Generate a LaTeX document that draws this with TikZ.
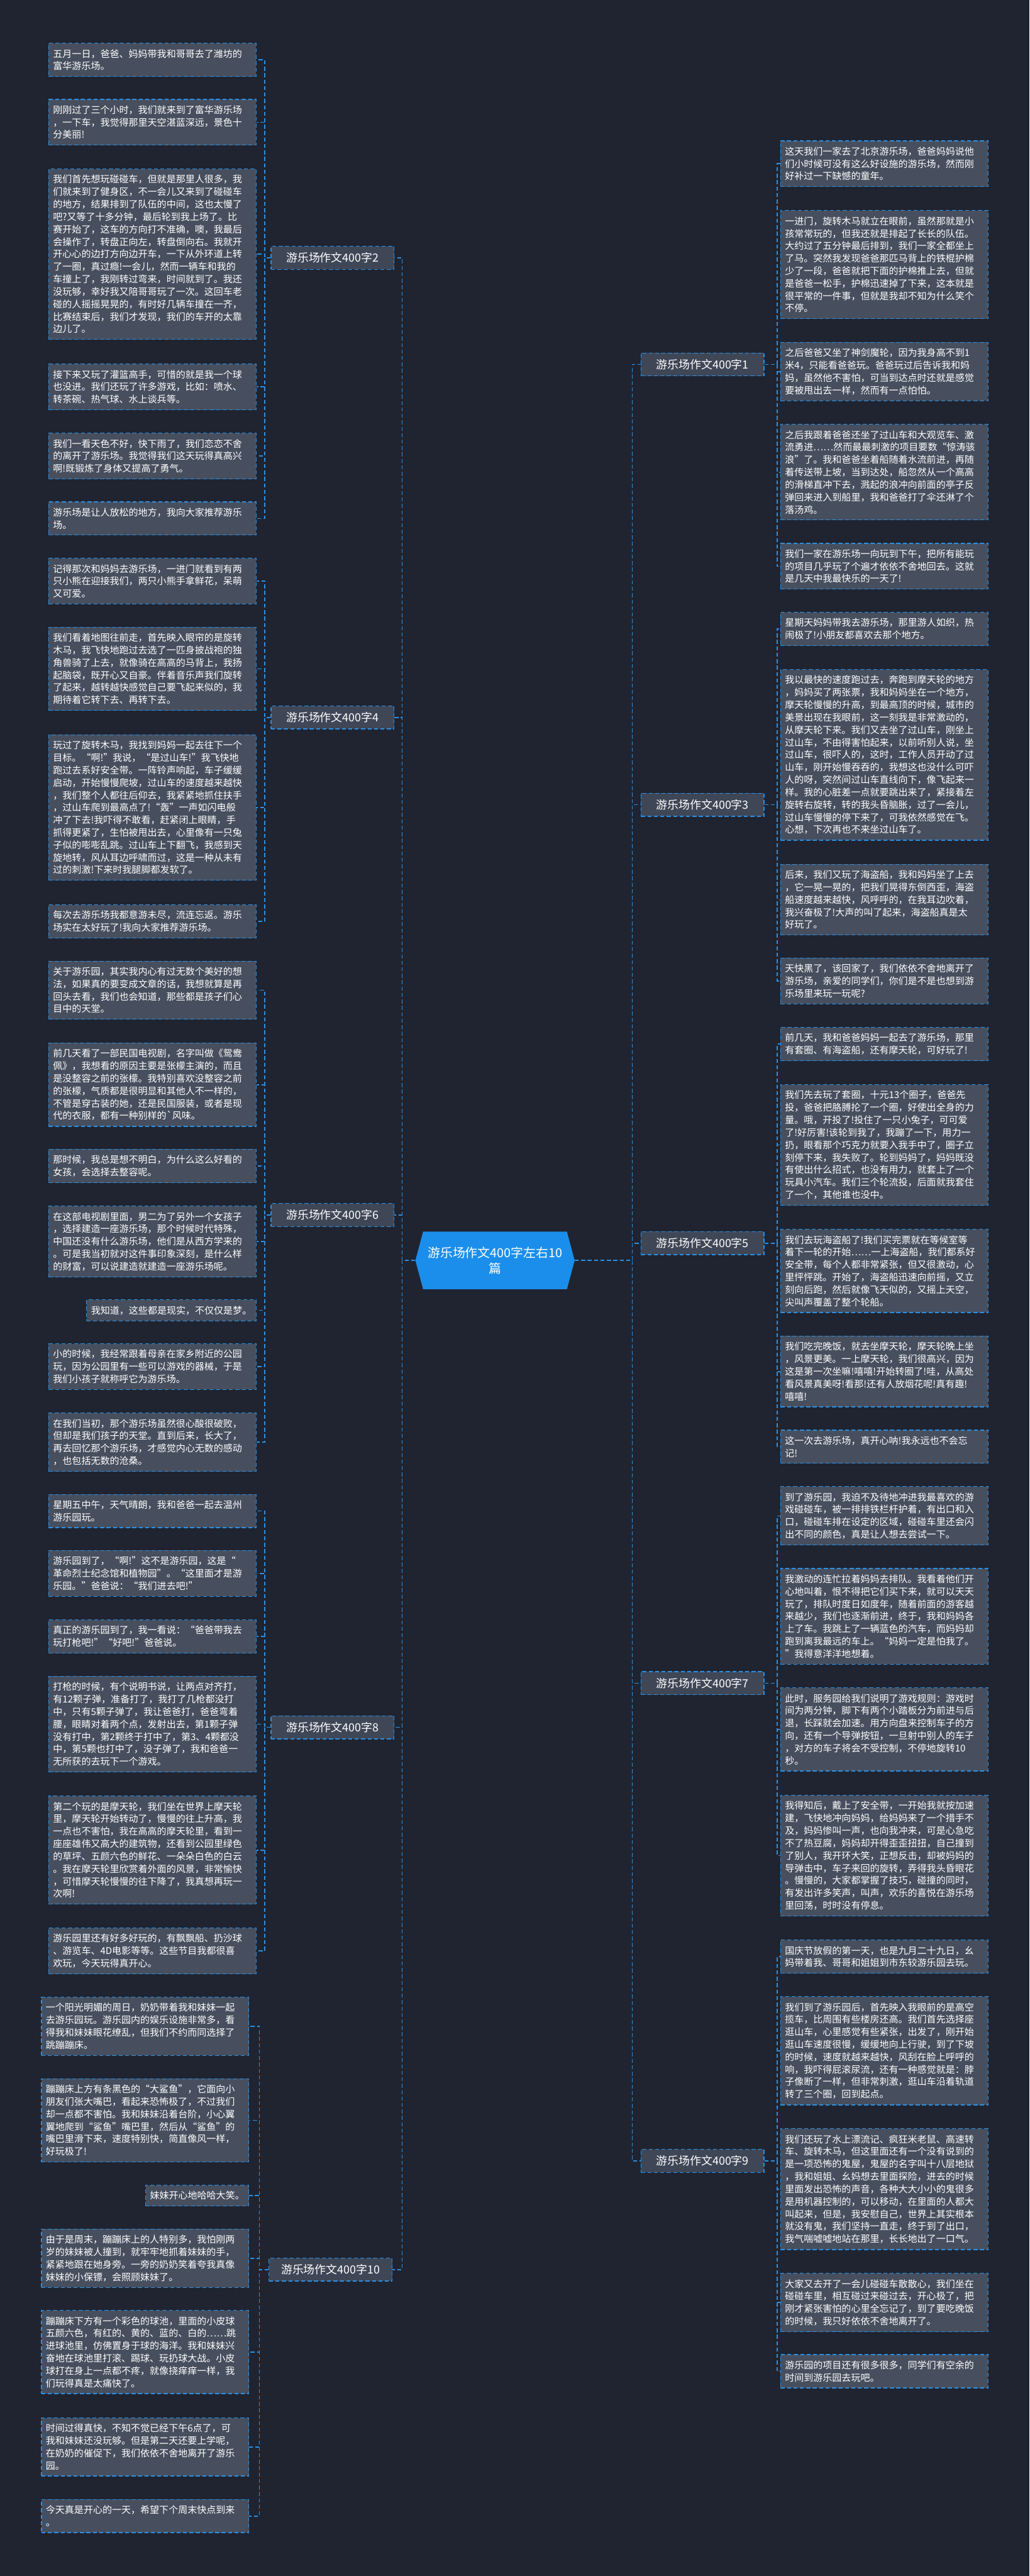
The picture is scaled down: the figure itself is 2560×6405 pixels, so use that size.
\documentclass[tikz,border=0pt]{standalone}
\usepackage{fontspec}
\newfontfamily\cjk{Noto Sans CJK SC}
\usetikzlibrary{shapes.symbols}
\definecolor{bgc}{HTML}{1F2430}
\definecolor{leaffill}{HTML}{474F5E}
\definecolor{lineblue}{HTML}{2B8FE3}
\definecolor{centerblue}{HTML}{1B8EEB}
\definecolor{branchfill}{HTML}{3F4757}
\tikzset{
  leafbase/.style={draw=lineblue, fill=leaffill, dash pattern=on 10pt off 6pt, line width=2pt,
    text=white, font=\cjk\fontsize{23.5}{31}\selectfont, inner xsep=11pt, inner ysep=15pt},
  leaf/.style={leafbase, align=left, text width=494pt},
  shortleaf/.style={leafbase, align=left},
  branch/.style={draw=lineblue, fill=branchfill, dash pattern=on 10pt off 6pt, line width=2pt, text=white,
    font=\cjk\fontsize{28}{34}\selectfont, minimum width=306pt, minimum height=57pt, inner sep=4pt},
  centernode/.style={signal, signal to=west and east, signal pointer angle=150, fill=centerblue,
    text=white, font=\cjk\fontsize{31}{40}\selectfont, align=center, minimum width=396pt,
    minimum height=143pt, inner sep=6pt},
  link/.style={draw=lineblue, line width=2.5pt, dash pattern=on 10pt off 6pt},
}
\begin{document}
\begin{tikzpicture}[x=1pt,y=-1pt]
\fill[bgc] (0,0) rectangle (2560,6405);
\useasboundingbox (0,0) rectangle (2560,6405);

% center
\node[centernode] (c) at (1231,3134) {游乐场作文400字左右10\\篇};

% branches
\node[branch] (b2) at (827,641) {游乐场作文400字2};
\node[branch] (b4) at (827,1784) {游乐场作文400字4};
\node[branch] (b6) at (827,3021) {游乐场作文400字6};
\node[branch] (b8) at (827,4295) {游乐场作文400字8};
\node[branch] (b10) at (822,5643) {游乐场作文400字10};
\node[branch] (b1) at (1747,906) {游乐场作文400字1};
\node[branch] (b3) at (1747,2001) {游乐场作文400字3};
\node[branch] (b5) at (1747,3091) {游乐场作文400字5};
\node[branch] (b7) at (1747,4185) {游乐场作文400字7};
\node[branch] (b9) at (1747,5373) {游乐场作文400字9};

% left leaves group 2
\node[leaf, anchor=east] (l2a) at (638,149) {五月一日，爸爸、妈妈带我和哥哥去了潍坊的\\富华游乐场。};
\node[leaf, anchor=east] (l2b) at (638,304) {刚刚过了三个小时，我们就来到了富华游乐场\\，一下车，我觉得那里天空湛蓝深远，景色十\\分美丽!};
\node[leaf, anchor=east] (l2c) at (638,632) {我们首先想玩碰碰车，但就是那里人很多，我\\们就来到了健身区，不一会儿又来到了碰碰车\\的地方，结果排到了队伍的中间，这也太慢了\\吧?又等了十多分钟，最后轮到我上场了。比\\赛开始了，这车的方向打不准确，噢，我最后\\会操作了，转盘正向左，转盘倒向右。我就开\\开心心的边打方向边开车，一下从外环道上转\\了一圈，真过瘾!一会儿，然而一辆车和我的\\车撞上了，我刚转过弯来，时间就到了。我还\\没玩够，幸好我又陪哥哥玩了一次。这回车老\\碰的人摇摇晃晃的，有时好几辆车撞在一齐，\\比赛结束后，我们才发现，我们的车开的太靠\\边儿了。};
\node[leaf, anchor=east] (l2d) at (638,962) {接下来又玩了灌篮高手，可惜的就是我一个球\\也没进。我们还玩了许多游戏，比如：喷水、\\转茶碗、热气球、水上谈兵等。};
\node[leaf, anchor=east] (l2e) at (638,1134) {我们一看天色不好，快下雨了，我们恋恋不舍\\的离开了游乐场。我觉得我们这天玩得真高兴\\啊!既锻炼了身体又提高了勇气。};
\node[leaf, anchor=east] (l2f) at (638,1289) {游乐场是让人放松的地方，我向大家推荐游乐\\场。};

% group 4
\node[leaf, anchor=east] (l4a) at (638,1445) {记得那次和妈妈去游乐场，一进门就看到有两\\只小熊在迎接我们，两只小熊手拿鲜花，呆萌\\又可爱。};
\node[leaf, anchor=east] (l4b) at (638,1663) {我们看着地图往前走，首先映入眼帘的是旋转\\木马，我飞快地跑过去选了一匹身披战袍的独\\角兽骑了上去，就像骑在高高的马背上，我扬\\起脑袋，既开心又自豪。伴着音乐声我们旋转\\了起来，越转越快感觉自己要飞起来似的，我\\期待着它转下去、再转下去。};
\node[leaf, anchor=east] (l4c) at (638,2008) {玩过了旋转木马，我找到妈妈一起去往下一个\\目标。“啊!”我说，“是过山车!”我飞快地\\跑过去系好安全带。一阵铃声响起，车子缓缓\\启动，开始慢慢爬坡，过山车的速度越来越快\\，我们整个人都往后仰去，我紧紧地抓住扶手\\，过山车爬到最高点了!“轰”一声如闪电般\\冲了下去!我吓得不敢看，赶紧闭上眼睛，手\\抓得更紧了，生怕被甩出去，心里像有一只兔\\子似的嘭嘭乱跳。过山车上下翻飞，我感到天\\旋地转，风从耳边呼啸而过，这是一种从未有\\过的刺激!下来时我腿脚都发软了。};
\node[leaf, anchor=east] (l4d) at (638,2291) {每次去游乐场我都意游未尽，流连忘返。游乐\\场实在太好玩了!我向大家推荐游乐场。};

% group 6
\node[leaf, anchor=east] (l6a) at (638,2462) {关于游乐园，其实我内心有过无数个美好的想\\法，如果真的要变成文章的话，我想就算是再\\回头去看，我们也会知道，那些都是孩子们心\\目中的天堂。};
\node[leaf, anchor=east] (l6b) at (638,2697) {前几天看了一部民国电视剧，名字叫做《鸳鸯\\佩》，我想看的原因主要是张檬主演的，而且\\是没整容之前的张檬。我特别喜欢没整容之前\\的张檬，气质都是很明显和其他人不一样的，\\不管是穿古装的她，还是民国服装，或者是现\\代的衣服，都有一种别样的`风味。};
\node[leaf, anchor=east] (l6c) at (638,2899) {那时候，我总是想不明白，为什么这么好看的\\女孩，会选择去整容呢。};
\node[leaf, anchor=east] (l6d) at (638,3087) {在这部电视剧里面，男二为了另外一个女孩子\\，选择建造一座游乐场，那个时候时代特殊，\\中国还没有什么游乐场，他们是从西方学来的\\。可是我当初就对这件事印象深刻，是什么样\\的财富，可以说建造就建造一座游乐场呢。};
\node[shortleaf, anchor=east] (l6e) at (638,3258) {我知道，这些都是现实，不仅仅是梦。};
\node[leaf, anchor=east] (l6f) at (638,3398) {小的时候，我经常跟着母亲在家乡附近的公园\\玩，因为公园里有一些可以游戏的器械，于是\\我们小孩子就称呼它为游乐场。};
\node[leaf, anchor=east] (l6g) at (638,3586) {在我们当初，那个游乐场虽然很心酸很破败，\\但却是我们孩子的天堂。直到后来，长大了，\\再去回忆那个游乐场，才感觉内心无数的感动\\，也包括无数的沧桑。};

% group 8
\node[leaf, anchor=east] (l8a) at (638,3757) {星期五中午，天气晴朗，我和爸爸一起去温州\\游乐园玩。};
\node[leaf, anchor=east] (l8b) at (638,3912) {游乐园到了，“啊!”这不是游乐园，这是“\\革命烈士纪念馆和植物园”。“这里面才是游\\乐园。”爸爸说：“我们进去吧!”};
\node[leaf, anchor=east] (l8c) at (638,4069) {真正的游乐园到了，我一看说：“爸爸带我去\\玩打枪吧!”“好吧!”爸爸说。};
\node[leaf, anchor=east] (l8d) at (638,4287) {打枪的时候，有个说明书说，让两点对齐打，\\有12颗子弹，准备打了，我打了几枪都没打\\中，只有5颗子弹了，我让爸爸打，爸爸弯着\\腰，眼睛对着两个点，发射出去，第1颗子弹\\没有打中，第2颗终于打中了，第3、4颗都没\\中，第5颗也打中了，没子弹了，我和爸爸一\\无所获的去玩下一个游戏。};
\node[leaf, anchor=east] (l8e) at (638,4600) {第二个玩的是摩天轮，我们坐在世界上摩天轮\\里，摩天轮开始转动了，慢慢的往上升高，我\\一点也不害怕，我在高高的摩天轮里，看到一\\座座雄伟又高大的建筑物，还看到公园里绿色\\的草坪、五颜六色的鲜花、一朵朵白色的白云\\。我在摩天轮里欣赏着外面的风景，非常愉快\\，可惜摩天轮慢慢的往下降了，我真想再玩一\\次啊!};
\node[leaf, anchor=east] (l8f) at (638,4851) {游乐园里还有好多好玩的，有飘飘船、扔沙球\\、游览车、4D电影等等。这些节目我都很喜\\欢玩，今天玩得真开心。};

% group 10
\node[leaf, anchor=east] (l10a) at (620,5038) {一个阳光明媚的周日，奶奶带着我和妹妹一起\\去游乐园玩。游乐园内的娱乐设施非常多，看\\得我和妹妹眼花缭乱，但我们不约而同选择了\\跳蹦蹦床。};
\node[leaf, anchor=east] (l10b) at (620,5272) {蹦蹦床上方有条黑色的“大鲨鱼”，它面向小\\朋友们张大嘴巴，看起来恐怖极了，不过我们\\却一点都不害怕。我和妹妹沿着台阶，小心翼\\翼地爬到“鲨鱼”嘴巴里，然后从“鲨鱼”的\\嘴巴里滑下来，速度特别快，简直像风一样，\\好玩极了!};
\node[shortleaf, anchor=east] (l10c) at (620,5459) {妹妹开心地哈哈大笑。};
\node[leaf, anchor=east] (l10d) at (620,5615) {由于是周末，蹦蹦床上的人特别多，我怕刚两\\岁的妹妹被人撞到，就牢牢地抓着妹妹的手，\\紧紧地跟在她身旁。一旁的奶奶笑着夸我真像\\妹妹的小保镖，会照顾妹妹了。};
\node[leaf, anchor=east] (l10e) at (620,5848) {蹦蹦床下方有一个彩色的球池，里面的小皮球\\五颜六色，有红的、黄的、蓝的、白的……跳\\进球池里，仿佛置身于球的海洋。我和妹妹兴\\奋地在球池里打滚、踢球、玩扔球大战。小皮\\球打在身上一点都不疼，就像挠痒痒一样，我\\们玩得真是太痛快了。};
\node[leaf, anchor=east] (l10f) at (620,6084) {时间过得真快，不知不觉已经下午6点了，可\\我和妹妹还没玩够。但是第二天还要上学呢，\\在奶奶的催促下，我们依依不舍地离开了游乐\\园。};
\node[leaf, anchor=east] (l10g) at (620,6256) {今天真是开心的一天，希望下个周末快点到来\\。};

% right group 1
\node[leaf, anchor=west] (r1a) at (1940,407) {这天我们一家去了北京游乐场，爸爸妈妈说他\\们小时候可没有这么好设施的游乐场，然而刚\\好补过一下缺憾的童年。};
\node[leaf, anchor=west] (r1b) at (1940,658) {一进门，旋转木马就立在眼前，虽然那就是小\\孩常常玩的，但我还就是排起了长长的队伍。\\大约过了五分钟最后排到，我们一家全都坐上\\了马。突然我发现爸爸那匹马背上的铁棍护棉\\少了一段，爸爸就把下面的护棉推上去，但就\\是爸爸一松手，护棉迅速掉了下来，这本就是\\很平常的一件事，但就是我却不知为什么笑个\\不停。};
\node[leaf, anchor=west] (r1c) at (1940,924) {之后爸爸又坐了神剑魔轮，因为我身高不到1\\米4，只能看爸爸玩。爸爸玩过后告诉我和妈\\妈，虽然他不害怕，可当到达点时还就是感觉\\要被甩出去一样，然而有一点怕怕。};
\node[leaf, anchor=west] (r1d) at (1940,1174) {之后我跟着爸爸还坐了过山车和大观览车、激\\流勇进……然而最最刺激的项目要数“惊涛骇\\浪”了。我和爸爸坐着船随着水流前进，再随\\着传送带上坡，当到达处，船忽然从一个高高\\的滑梯直冲下去，溅起的浪冲向前面的亭子反\\弹回来进入到船里，我和爸爸打了伞还淋了个\\落汤鸡。};
\node[leaf, anchor=west] (r1e) at (1940,1408) {我们一家在游乐场一向玩到下午，把所有能玩\\的项目几乎玩了个遍才依依不舍地回去。这就\\是几天中我最快乐的一天了!};

% right group 3
\node[leaf, anchor=west] (r3a) at (1940,1564) {星期天妈妈带我去游乐场，那里游人如织，热\\闹极了!小朋友都喜欢去那个地方。};
\node[leaf, anchor=west] (r3b) at (1940,1877) {我以最快的速度跑过去，奔跑到摩天轮的地方\\，妈妈买了两张票，我和妈妈坐在一个地方，\\摩天轮慢慢的升高，到最高顶的时候，城市的\\美景出现在我眼前，这一刻我是非常激动的，\\从摩天轮下来。我们又去坐了过山车，刚坐上\\过山车，不由得害怕起来，以前听别人说，坐\\过山车，很吓人的，这时，工作人员开动了过\\山车，刚开始慢吞吞的，我想这也没什么可吓\\人的呀，突然间过山车直线向下，像飞起来一\\样。我的心脏差一点就要跳出来了，紧接着左\\旋转右旋转，转的我头昏脑胀，过了一会儿，\\过山车慢慢的停下来了，可我依然感觉在飞。\\心想，下次再也不来坐过山车了。};
\node[leaf, anchor=west] (r3c) at (1940,2237) {后来，我们又玩了海盗船，我和妈妈坐了上去\\，它一晃一晃的，把我们晃得东倒西歪，海盗\\船速度越来越快，风呼呼的，在我耳边吹着，\\我兴奋极了!大声的叫了起来，海盗船真是太\\好玩了。};
\node[leaf, anchor=west] (r3d) at (1940,2439) {天快黑了，该回家了，我们依依不舍地离开了\\游乐场，亲爱的同学们，你们是不是也想到游\\乐场里来玩一玩呢?};

% right group 5
\node[leaf, anchor=west] (r5a) at (1940,2596) {前几天，我和爸爸妈妈一起去了游乐场，那里\\有套圈、有海盗船，还有摩天轮，可好玩了!};
\node[leaf, anchor=west] (r5b) at (1940,2847) {我们先去玩了套圈，十元13个圈子，爸爸先\\投，爸爸把胳膊抡了一个圈，好使出全身的力\\量。哦，开投了!投住了一只小兔子，可可爱\\了!好厉害!该轮到我了，我蹦了一下，用力一\\扔，眼看那个巧克力就要入我手中了，圈子立\\刻停下来，我失败了。轮到妈妈了，妈妈既没\\有使出什么招式，也没有用力，就套上了一个\\玩具小汽车。我们三个轮流投，后面就我套住\\了一个，其他谁也没中。};
\node[leaf, anchor=west] (r5c) at (1940,3160) {我们去玩海盗船了!我们买完票就在等候室等\\着下一轮的开始……一上海盗船，我们都系好\\安全带，每个人都非常紧张，但又很激动，心\\里怦怦跳。开始了，海盗船迅速向前摇，又立\\刻向后跑，然后就像飞天似的，又摇上天空，\\尖叫声覆盖了整个轮船。};
\node[leaf, anchor=west] (r5d) at (1940,3410) {我们吃完晚饭，就去坐摩天轮，摩天轮晚上坐\\，风景更美。一上摩天轮，我们很高兴，因为\\这是第一次坐嘛!嘻嘻!开始转圈了!哇，从高处\\看风景真美呀!看那!还有人放烟花呢!真有趣!\\嘻嘻!};
\node[leaf, anchor=west] (r5e) at (1940,3597) {这一次去游乐场，真开心呐!我永远也不会忘\\记!};

% right group 7
\node[leaf, anchor=west] (r7a) at (1940,3769) {到了游乐园，我迫不及待地冲进我最喜欢的游\\戏碰碰车，被一排排铁栏杆护着，有出口和入\\口，碰碰车排在设定的区域，碰碰车里还会闪\\出不同的颜色，真是让人想去尝试一下。};
\node[leaf, anchor=west] (r7b) at (1940,4019) {我激动的连忙拉着妈妈去排队。我看着他们开\\心地叫着，恨不得把它们买下来，就可以天天\\玩了，排队时度日如度年，随着前面的游客越\\来越少，我们也逐渐前进，终于，我和妈妈各\\上了车。我跳上了一辆蓝色的汽车，而妈妈却\\跑到离我最远的车上。“妈妈一定是怕我了。\\”我得意洋洋地想着。};
\node[leaf, anchor=west] (r7c) at (1940,4300) {此时，服务园给我们说明了游戏规则：游戏时\\间为两分钟，脚下有两个小踏板分为前进与后\\退，长踩就会加速。用方向盘来控制车子的方\\向，还有一个导弹按钮，一旦射中别人的车子\\，对方的车子将会不受控制，不停地旋转10\\秒。};
\node[leaf, anchor=west] (r7d) at (1940,4614) {我得知后，戴上了安全带，一开始我就按加速\\建，飞快地冲向妈妈，给妈妈来了一个措手不\\及，妈妈惨叫一声，也向我冲来，可是心急吃\\不了热豆腐，妈妈却开得歪歪扭扭，自己撞到\\了别人，我开环大笑，正想反击，却被妈妈的\\导弹击中，车子来回的旋转，弄得我头昏眼花\\。慢慢的，大家都掌握了技巧，碰撞的同时，\\有发出许多笑声，叫声，欢乐的喜悦在游乐场\\里回荡，时时没有停息。};

% right group 9
\node[leaf, anchor=west] (r9a) at (1940,4865) {国庆节放假的第一天，也是九月二十九日，幺\\妈带着我、哥哥和姐姐到市东较游乐园去玩。};
\node[leaf, anchor=west] (r9b) at (1940,5099) {我们到了游乐园后，首先映入我眼前的是高空\\揽车，比周围有些楼房还高。我们首先选择座\\逛山车，心里感觉有些紧张，出发了，刚开始\\逛山车速度很慢，缓缓地向上行驶，到了下坡\\的时候，速度就越来越快，风刮在脸上呼呼的\\响，我吓得屁滚尿流，还有一种感觉就是：脖\\子像断了一样，但非常刺激，逛山车沿着轨道\\转了三个圈，回到起点。};
\node[leaf, anchor=west] (r9c) at (1940,5443) {我们还玩了水上漂流记、疯狂米老鼠、高速转\\车、旋转木马，但这里面还有一个没有说到的\\是一项恐怖的鬼屋，鬼屋的名字叫十八层地狱\\，我和姐姐、幺妈想去里面探险，进去的时候\\里面发出恐怖的声音，各种大大小小的鬼很多\\是用机器控制的，可以移动，在里面的人都大\\叫起来，但是，我安慰自己，世界上其实根本\\就没有鬼，我们坚持一直走，终于到了出口，\\我气喘嘘嘘地站在那里，长长地出了一口气。};
\node[leaf, anchor=west] (r9d) at (1940,5725) {大家又去开了一会儿碰碰车散散心，我们坐在\\碰碰车里，相互碰过来碰过去，开心极了，把\\刚才紧张害怕的心里全忘记了，到了要吃晚饭\\的时候，我只好依依不舍地离开了。};
\node[leaf, anchor=west] (r9e) at (1940,5896) {游乐园的项目还有很多很多，同学们有空余的\\时间到游乐园去玩吧。};

% connectors center -> branches
\foreach \b in {b2,b4,b6,b8,b10}
  \draw[link] (c.west) -- ++(-33,0) |- (\b.east);
\foreach \b in {b1,b3,b5,b7,b9}
  \draw[link] (c.east) -- ++(143,0) |- (\b.west);

% branches -> leaves
\foreach \l in {l2a,l2b,l2c,l2d,l2e,l2f}
  \draw[link] (b2.west) -- ++(-15,0) |- (\l.east);
\foreach \l in {l4a,l4b,l4c,l4d}
  \draw[link] (b4.west) -- ++(-15,0) |- (\l.east);
\foreach \l in {l6a,l6b,l6c,l6d,l6e,l6f,l6g}
  \draw[link] (b6.west) -- ++(-15,0) |- (\l.east);
\foreach \l in {l8a,l8b,l8c,l8d,l8e,l8f}
  \draw[link] (b8.west) -- ++(-15,0) |- (\l.east);
\foreach \l in {l10a,l10b,l10c,l10d,l10e,l10f,l10g}
  \draw[link] (b10.west) -- ++(-23,0) |- (\l.east);
\foreach \l in {r1a,r1b,r1c,r1d,r1e}
  \draw[link] (b1.east) -- ++(32,0) |- (\l.west);
\foreach \l in {r3a,r3b,r3c,r3d}
  \draw[link] (b3.east) -- ++(32,0) |- (\l.west);
\foreach \l in {r5a,r5b,r5c,r5d,r5e}
  \draw[link] (b5.east) -- ++(32,0) |- (\l.west);
\foreach \l in {r7a,r7b,r7c,r7d}
  \draw[link] (b7.east) -- ++(32,0) |- (\l.west);
\foreach \l in {r9a,r9b,r9c,r9d,r9e}
  \draw[link] (b9.east) -- ++(32,0) |- (\l.west);
\end{tikzpicture}
\end{document}
